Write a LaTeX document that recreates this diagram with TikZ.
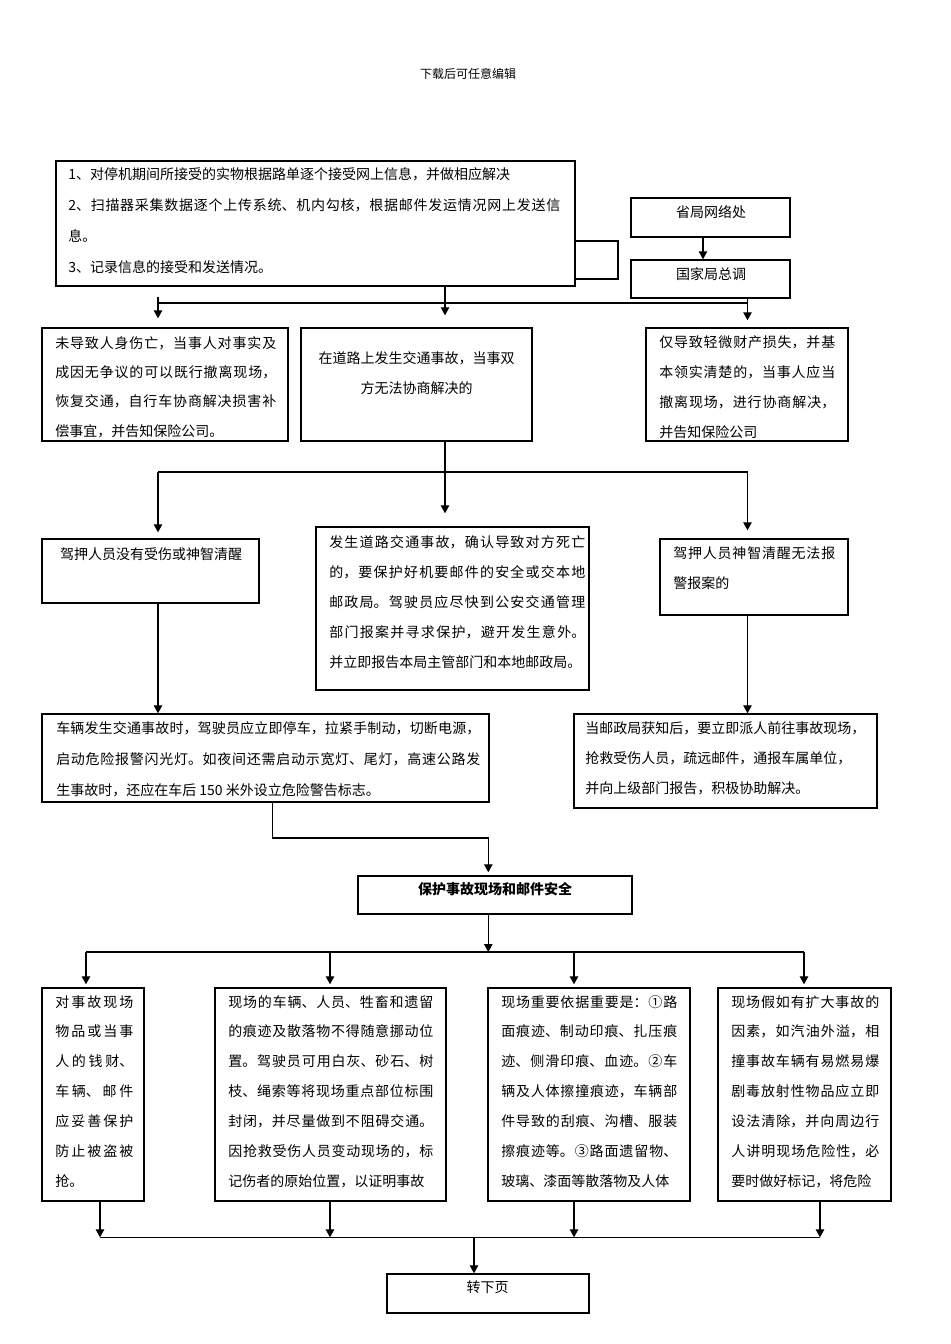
\documentclass[tikz,border=0pt]{standalone}
\usepackage{fontspec}
\setmainfont{Noto Sans CJK SC}
\usepackage{tikz}
\usetikzlibrary{arrows.meta}
\usetikzlibrary{fit}
\XeTeXlinebreaklocale "zh"
\XeTeXlinebreakskip=0pt plus 2pt
\newdimen\unitpx
\unitpx=0.75pt

\begin{document}
\begin{tikzpicture}[x=0.75pt,y=0.75pt,yscale=-1,xscale=1,
  box/.style={draw, line width=1.1pt, inner sep=0pt},
  txt/.style={anchor=base west, inner sep=0pt, align=justify, font=\fontsize{10.5pt}{22.5pt}\selectfont},
  ctxt/.style={anchor=base, inner sep=0pt, font=\fontsize{10.5pt}{22.5pt}\selectfont},
  ln/.style={line width=0.8pt},
  arr/.style={line width=0.8pt, -{Triangle[length=6pt,width=6.4pt]}}]
\useasboundingbox (0,0) rectangle (950,1344);

% Text Node
\node[ctxt, font=\fontsize{9pt}{11pt}\selectfont] (hdr) at (468,78.5) {下载后可任意编辑};

%Shape: Rectangle
\node[box, fit={(56,161) (575,286)}] (info) {};
% Text Node
\node[txt, text width=492\unitpx, font=\fontsize{10.5pt}{23.25pt}\selectfont] (info-t) at (68,180) {1、对停机期间所接受的实物根据路单逐个接受网上信息，并做相应解决\par
2、扫描器采集数据逐个上传系统、机内勾核，根据邮件发运情况网上发送信\linebreak
息。\par
3、记录信息的接受和发送情况。};

%Shape: Rectangle
\node[box, fit={(631,198) (790,237)}] (prov) {};
\node[ctxt] (prov-t) at (711,218) {省局网络处};
%Shape: Rectangle
\node[box, fit={(631,260) (790,298)}] (natl) {};
\node[ctxt] (natl-t) at (711,280) {国家局总调};

%Shape: Rectangle
\node[box, fit={(42,328) (288,441)}] (minor) {};
% Text Node
\node[txt, text width=221\unitpx, font=\fontsize{10.5pt}{22.1pt}\selectfont] (minor-t) at (55,348) {未导致人身伤亡，当事人对事实及\linebreak
成因无争议的可以既行撤离现场，\linebreak
恢复交通，自行车协商解决损害补\linebreak
偿事宜，并告知保险公司。};

%Shape: Rectangle
\node[box, fit={(301,328) (532,441)}] (fail) {};
% Text Node
\node[ctxt, text width=210\unitpx, align=center] (fail-t) at (416.5,363) {\XeTeXlinebreakskip=0pt\relax 在道路上发生交通事故，当事双\\方无法协商解决的};

%Shape: Rectangle
\node[box, fit={(646,328) (848,441)}] (prop) {};
% Text Node
\node[txt, text width=176\unitpx] (prop-t) at (659,347.5) {仅导致轻微财产损失，并基\linebreak
本领实清楚的，当事人应当\linebreak
撤离现场，进行协商解决，\linebreak
并告知保险公司};

%Shape: Rectangle
\node[box, fit={(42,539) (259,603)}] (calm) {};
\node[ctxt] (calm-t) at (151,559.5) {驾押人员没有受伤或神智清醒};

%Shape: Rectangle
\node[box, fit={(316,527) (589,690)}] (death) {};
% Text Node
\node[txt, text width=256\unitpx] (death-t) at (329,547) {发生道路交通事故，确认导致对方死亡\linebreak
的，要保护好机要邮件的安全或交本地\linebreak
邮政局。驾驶员应尽快到公安交通管理\linebreak
部门报案并寻求保护，避开发生意外。\linebreak
并立即报告本局主管部门和本地邮政局。};

%Shape: Rectangle
\node[box, fit={(660,539) (848,615)}] (alert) {};
% Text Node
\node[txt, text width=162\unitpx] (alert-t) at (673,558.5) {驾押人员神智清醒无法报\linebreak
警报案的};

%Shape: Rectangle
\node[box, fit={(42,714) (489,802)}] (stop) {};
% Text Node
\node[txt, text width=424\unitpx, font=\fontsize{10.5pt}{23.25pt}\selectfont] (stop-t) at (56,733) {车辆发生交通事故时，驾驶员应立即停车，拉紧手制动，切断电源，\linebreak
启动危险报警闪光灯。如夜间还需启动示宽灯、尾灯，高速公路发\linebreak
生事故时，还应在车后 150 米外设立危险警告标志。};

%Shape: Rectangle
\node[box, fit={(574,714) (877,808)}] (rescue) {};
% Text Node
\node[txt, text width=286\unitpx] (rescue-t) at (585,733) {当邮政局获知后，要立即派人前往事故现场，\newline
抢救受伤人员，疏远邮件，通报车属单位，\newline
并向上级部门报告，积极协助解决。};

%Shape: Rectangle
\node[box, fit={(358,876) (632,914)}] (guard) {};
\node[ctxt, font=\fontsize{10.5pt}{22.5pt}\selectfont\bfseries] (guard-t) at (495,894) {保护事故现场和邮件安全};

%Shape: Rectangle
\node[box, fit={(42,988) (144,1201)}] (prot) {};
% Text Node
\node[txt, text width=78\unitpx, font=\fontsize{10.5pt}{22.4pt}\selectfont] (prot-t) at (55,1007) {对事故现场\linebreak
物品或当事\linebreak
人的钱财、\linebreak
车辆、邮件\linebreak
应妥善保护\linebreak
防止被盗被\linebreak
抢。};

%Shape: Rectangle
\node[box, fit={(215,988) (446,1201)}] (keep) {};
% Text Node
\node[txt, text width=205\unitpx, font=\fontsize{10.5pt}{22.4pt}\selectfont] (keep-t) at (228,1007) {\parfillskip=0pt 现场的车辆、人员、牲畜和遗留\linebreak
的痕迹及散落物不得随意挪动位\linebreak
置。驾驶员可用白灰、砂石、树\linebreak
枝、绳索等将现场重点部位标围\linebreak
封闭，并尽量做到不阻碍交通。\linebreak
因抢救受伤人员变动现场的，标\linebreak
记伤者的原始位置，以证明事故};

%Shape: Rectangle
\node[box, fit={(488,988) (690,1201)}] (trace) {};
% Text Node
\node[txt, text width=176\unitpx, font=\fontsize{10.5pt}{22.4pt}\selectfont] (trace-t) at (501,1007) {\parfillskip=0pt 现场重要依据重要是：①路\linebreak
面痕迹、制动印痕、扎压痕\linebreak
迹、侧滑印痕、血迹。②车\linebreak
辆及人体擦撞痕迹，车辆部\linebreak
件导致的刮痕、沟槽、服装\linebreak
擦痕迹等。③路面遗留物、\linebreak
玻璃、漆面等散落物及人体};

%Shape: Rectangle
\node[box, fit={(718,988) (891,1201)}] (risk) {};
% Text Node
\node[txt, text width=148\unitpx, font=\fontsize{10.5pt}{22.4pt}\selectfont] (risk-t) at (731,1007) {\parfillskip=0pt 现场假如有扩大事故的\linebreak
因素，如汽油外溢，相\linebreak
撞事故车辆有易燃易爆\linebreak
剧毒放射性物品应立即\linebreak
设法清除，并向周边行\linebreak
人讲明现场危险性，必\linebreak
要时做好标记，将危险};

%Shape: Rectangle
\node[box, fit={(387,1274) (589,1313)}] (next) {};
\node[ctxt] (next-t) at (487.5,1292.5) {转下页};

% junction points
\coordinate (cL) at (158,0);
\coordinate (cM) at (445,0);
\coordinate (cR) at (747.5,0);
\coordinate (cS) at (703,0);
\coordinate (cG) at (488.3,0);
\coordinate (k1) at (618,241);
\coordinate (k2) at (618,279);
\coordinate (j1) at (445,303);
\coordinate (j1s) at (158,297);
\coordinate (j2) at (445,472);
\coordinate (j3) at (272.5,838);
\coordinate (j4) at (488.3,952);
\coordinate (t1) at (86,952);
\coordinate (t2) at (330,952);
\coordinate (t3) at (574,952);
\coordinate (t4) at (804,952);
\coordinate (u1) at (100,1237.3);
\coordinate (u2) at (330,1237.3);
\coordinate (u3) at (574,1237.3);
\coordinate (u4) at (820,1237.3);
\coordinate (u0) at (474,1237.3);

%Straight Lines
\draw[ln] (info.east |- k1) -- (k1) -- (k2) -- (info.east |- k2);
\draw[arr] (prov.south -| cS) -- (natl.north -| cS);
\draw[ln] (cL |- j1) -- (cR |- j1);
\draw[arr, shorten >=9\unitpx] (j1s) -- (minor.north -| j1s);
\draw[arr, shorten >=12\unitpx] (info.south -| cM) -- (fail.north -| cM);
\draw[arr, shorten >=7\unitpx] (natl.south -| cR) -- (prop.north -| cR);

%Straight Lines
\draw[arr, shorten >=13\unitpx] (fail.south -| cM) -- (death.north -| cM);
\draw[ln] (cL |- j2) -- (cR |- j2);
\draw[arr, shorten >=6\unitpx] (cL |- j2) -- (calm.north -| cL);
\draw[arr, shorten >=8\unitpx] (cR |- j2) -- (alert.north -| cR);

%Straight Lines
\draw[arr] (calm.south -| cL) -- (stop.north -| cL);
\draw[arr] (alert.south -| cR) -- (rescue.north -| cR);
\draw[arr, shorten >=3\unitpx] (stop.south -| j3) -- (j3) -- (cG |- j3) -- (guard.north -| cG);

%Straight Lines
\draw[arr] (guard.south -| cG) -- (j4);
\draw[ln] (t1) -- (t4);
\foreach \cc/\bb in {t1/prot, t2/keep, t3/trace, t4/risk}
  \draw[arr, shorten >=3\unitpx] (\cc) -- (\bb.north -| \cc);
\foreach \cc/\bb in {u1/prot, u2/keep, u3/trace, u4/risk}
  \draw[arr] (\bb.south -| \cc) -- (\cc);
\draw[ln] (u1) -- (u4);
\draw[arr] (u0) -- (next.north -| u0);

\end{tikzpicture}
\end{document}
